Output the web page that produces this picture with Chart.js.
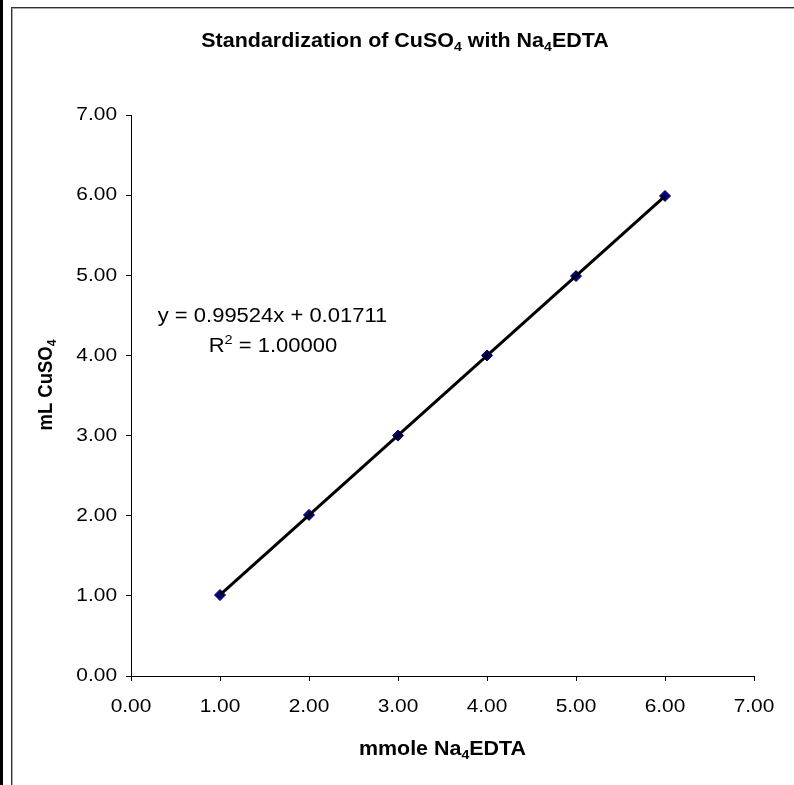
<!DOCTYPE html>
<html>
<head>
<meta charset="utf-8">
<script src="https://cdn.jsdelivr.net/npm/chart.js@4/dist/chart.umd.min.js"></script>
<style>
  html, body { margin: 0; padding: 0; background: #fff; }
  #wrap { position: relative; width: 794px; height: 785px; }
  canvas { display: block; }
</style>
</head>
<body>
<div id="wrap"><canvas id="c" width="794" height="785"></canvas></div>
<script>
// ---- data ----
const mmoleNa4EDTA = [1.00, 2.00, 3.00, 4.00, 5.00, 6.00];
const mLCuSO4 = [1.01, 2.01, 3.00, 4.00, 4.99, 5.99];
const trendX = [1.00, 6.00];
const trendY = [1.01235, 5.98855];
const xTicks = [0, 1, 2, 3, 4, 5, 6, 7];
const yTicks = [0, 1, 2, 3, 4, 5, 6, 7];
const equationText = 'y = 0.99524x + 0.01711';
const rSquaredText = '1.00000';

const FONT = "'Liberation Sans', Arial, sans-serif";
const SX = 1.1; // slight horizontal stretch seen in the reference text

const points = mmoleNa4EDTA.map((x, i) => ({ x: x, y: mLCuSO4[i] }));
const trend = trendX.map((x, i) => ({ x: x, y: trendY[i] }));

function drawRich(ctx, parts, cx, baseY, size, bold, rotate) {
  const weight = bold ? 'bold ' : '';
  let total = 0;
  const widths = parts.map(p => {
    const s = p.sub || p.sup ? size * 0.66 : size;
    ctx.font = weight + s + 'px ' + FONT;
    const w = ctx.measureText(p.t).width;
    total += w;
    return w;
  });
  ctx.save();
  ctx.translate(cx, baseY);
  if (rotate) { ctx.rotate(-Math.PI / 2); ctx.scale(1, SX); }
  else { ctx.scale(SX, 1); }
  ctx.fillStyle = '#000';
  ctx.textBaseline = 'alphabetic';
  ctx.textAlign = 'left';
  let x = -total / 2;
  parts.forEach((p, i) => {
    const s = p.sub || p.sup ? size * 0.66 : size;
    ctx.font = weight + s + 'px ' + FONT;
    let dy = 0;
    if (p.sub) dy = size * 0.22;
    if (p.sup) dy = -size * 0.38;
    (ctx._origFill || ctx.fillText).call(ctx, p.t, x, dy);
    x += widths[i];
  });
  ctx.restore();
}

const stretchPlugin = {
  id: 'stretchText',
  beforeDraw(chart) {
    const ctx = chart.ctx;
    if (!ctx._origFill) {
      ctx._origFill = ctx.fillText;
      ctx.fillText = function (t, x, y, mw) {
        this.save();
        this.translate(x, y);
        this.scale(SX, 1);
        if (mw !== undefined) this._origFill.call(this, t, 0, 0, mw / SX);
        else this._origFill.call(this, t, 0, 0);
        this.restore();
      };
    }
    ctx.save();
    ctx.fillStyle = '#fff';
    ctx.fillRect(0, 0, chart.width, chart.height);
    ctx.restore();
  },
  afterDraw(chart) {
    const ctx = chart.ctx;
    // frame lines
    ctx.save();
    ctx.fillStyle = '#000';
    ctx.fillRect(0, 0, 3, chart.height);
    ctx.fillStyle = '#333';
    ctx.fillRect(11, 7, chart.width - 11, 1);
    ctx.fillRect(11, 7, 1, chart.height - 7);
    ctx.fillStyle = '#aaa';
    ctx.fillRect(12, 8, chart.width - 12, 1);
    ctx.fillRect(12, 8, 1, chart.height - 8);
    ctx.restore();
    // title
    drawRich(ctx, [{ t: 'Standardization of CuSO' }, { t: '4', sub: true }, { t: ' with Na' }, { t: '4', sub: true }, { t: 'EDTA' }], 405, 47, 19.5, true, false);
    // x axis title
    const xs = chart.scales.x;
    drawRich(ctx, [{ t: 'mmole Na' }, { t: '4', sub: true }, { t: 'EDTA' }], (xs.left + xs.right) / 2, 755, 19.5, true, false);
    // y axis title
    drawRich(ctx, [{ t: 'mL CuSO' }, { t: '4', sub: true }], 52, 385, 18.5, true, true);
    // trendline equation
    drawRich(ctx, [{ t: equationText }], 272.5, 322, 20, false, false);
    drawRich(ctx, [{ t: 'R' }, { t: '2', sup: true }, { t: ' = ' + rSquaredText }], 273, 352, 20, false, false);
  }
};

const ctx = document.getElementById('c').getContext('2d');
new Chart(ctx, {
  type: 'scatter',
  data: {
    datasets: [
      {
        label: 'trend',
        data: trend,
        showLine: true,
        borderColor: '#000',
        borderWidth: 3,
        pointRadius: 0,
        order: 0
      },
      {
        label: 'data',
        data: points,
        showLine: false,
        pointStyle: 'rectRot',
        pointRadius: 5.5,
        pointBackgroundColor: '#000080',
        pointBorderColor: '#000060',
        pointBorderWidth: 1,
        order: 1
      }
    ]
  },
  options: {
    responsive: false,
    devicePixelRatio: 1,
    animation: false,
    layout: { padding: { left: 0, right: 40, top: 115, bottom: 0 } },
    plugins: {
      legend: { display: false },
      title: { display: false },
      tooltip: { enabled: false }
    },
    scales: {
      x: {
        type: 'linear',
        min: xTicks[0],
        max: xTicks[xTicks.length - 1],
        afterBuildTicks(scale) { scale.ticks = xTicks.map(v => ({ value: v })); },
        afterFit(scale) { scale.height = 109; scale.paddingLeft = 0; scale.paddingRight = 0; },
        ticks: {
          color: '#000',
          font: { family: FONT, size: 19 },
          padding: 14,
          maxRotation: 0,
          autoSkip: false,
          callback: v => Number(v).toFixed(2)
        },
        grid: { display: true, drawOnChartArea: false, drawTicks: true, tickLength: 5, color: '#000', lineWidth: 1 },
        border: { display: true, color: '#000', width: 1 }
      },
      y: {
        type: 'linear',
        min: yTicks[0],
        max: yTicks[yTicks.length - 1],
        afterBuildTicks(scale) { scale.ticks = yTicks.map(v => ({ value: v })); },
        afterFit(scale) { scale.width = 131; scale.paddingTop = 0; scale.paddingBottom = 0; },
        ticks: {
          color: '#000',
          font: { family: FONT, size: 19 },
          padding: 9,
          autoSkip: false,
          callback: v => Number(v).toFixed(2)
        },
        grid: { display: true, drawOnChartArea: false, drawTicks: true, tickLength: 5, color: '#000', lineWidth: 1 },
        border: { display: true, color: '#000', width: 1 }
      }
    }
  },
  plugins: [stretchPlugin]
});
</script>
</body>
</html>
